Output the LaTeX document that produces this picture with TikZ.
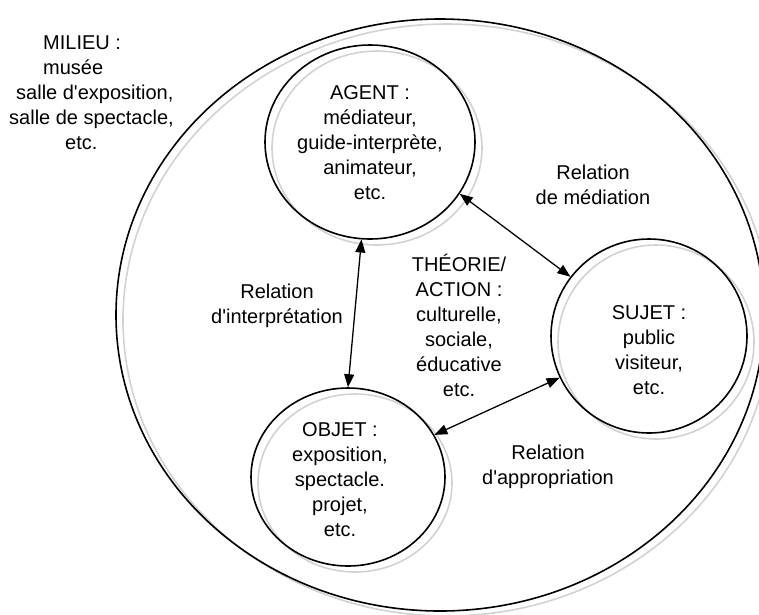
\documentclass[tikz,border=0pt]{standalone}
\usepackage{fontspec}
\setmainfont{Liberation Sans}[Ligatures=TeXOff]
\usetikzlibrary{shapes.geometric,arrows.meta,calc}
\definecolor{ringgrey}{HTML}{D2D2D2}
\begin{document}
\begin{tikzpicture}[x=1pt,y=-1pt,
  ring/.style={ellipse,draw=black,line width=1.6pt,inner sep=0pt},
  shade/.style={draw=ringgrey,line width=1.6pt},
  txt/.style={align=center,inner sep=0pt,font=\fontsize{20}{25}\selectfont},
  mline/.style={anchor=base west,inner sep=0pt,font=\fontsize{20}{25}\selectfont},
  link/.style={{Triangle[length=13pt,width=10pt]}-{Triangle[length=13pt,width=10pt]},line width=1.3pt}]
\clip (0,0) rectangle (759,614);
% grey offset rings
\draw[shade] (447,320) ellipse [x radius=324,y radius=296];
\draw[shade] (377,148) ellipse [x radius=105,y radius=97];
\draw[shade] (656,342) ellipse [x radius=98,y radius=97];
\draw[shade] (355,483) ellipse [x radius=97,y radius=89];
% black rings
\node[ring,minimum width=648pt,minimum height=592pt] (milieu) at (440,315) {};
\node[ring,minimum width=210pt,minimum height=194pt] (agent) at (370,142) {};
\node[ring,minimum width=196pt,minimum height=194pt] (sujet) at (649,336) {};
\node[ring,minimum width=194pt,minimum height=178pt] (objet) at (348,477) {};
% milieu text, line by line
\node[mline] (m1) at (43,49) {MILIEU :};
\node[mline] (m2) at (43,74) {musée};
\node[mline] (m3) at (16,99) {salle d'exposition,};
\node[mline] (m4) at (9,124) {salle de spectacle,};
\node[mline] (m5) at (65,149) {etc.};
% texts
\node[txt] (agenttxt) at (370,143) {AGENT :\\médiateur,\\guide-interprète,\\animateur,\\etc.};
\node[txt] (sujettxt) at (649,350) {SUJET :\\public\\visiteur,\\etc.};
\node[txt] (objettxt) at (340,480) {OBJET :\\exposition,\\spectacle.\\projet,\\etc.};
\node[txt] (theorie) at (459,325) {THÉORIE/\\ACTION :\\culturelle,\\sociale,\\éducative\\etc.};
\node[txt] (lmed) at (593,185) {Relation\\de médiation};
\node[txt] (linterp) at (277,306) {Relation\\d'interprétation};
\node[txt] (lapprop) at (548,467) {Relation\\d'appropriation};
% connectors
\draw[link] (agent.265) -- (objet.90);
\draw[link] (agent.-30) -- (sujet.143);
\draw[link] (objet.26) -- (sujet.205);
\end{tikzpicture}
\end{document}
